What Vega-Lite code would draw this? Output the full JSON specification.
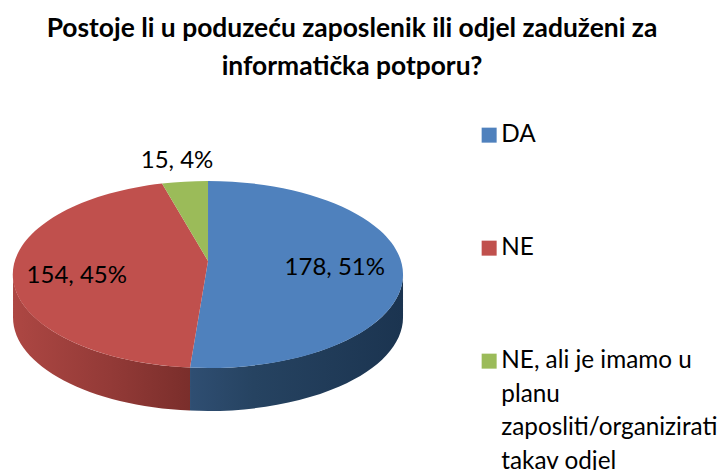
{
"$schema":"https://vega.github.io/schema/vega-lite/v6.json",
"width":725,"height":470,"padding":0,"autosize":{"type":"none"},
"background":"white",
"config":{"view":{"stroke":null},"font":"Lato"},
"title":{"text":["Postoje li u poduzeću zaposlenik ili odjel zaduženi za","informatička potporu?"],"font":"Lato","fontSize":26.4,"fontWeight":"bold","color":"#000000","anchor":"start","align":"center","dx":352,"orient":"top","baseline":"alphabetic","offset":-101,"lineHeight":37.5},
"data":{"values":[
{"answer":"DA","count":178,"label":"178, 51%","labelX":0.65,"labelY":0.073},
{"answer":"NE","count":154,"label":"154, 45%","labelX":-0.673,"labelY":-0.016},
{"answer":"NE, ali je imamo u planu zaposliti/organizirati takav odjel","count":15,"label":"15, 4%","labelX":-0.159,"labelY":1.217}
]},
"layer":[
{"transform":[{"filter":"datum.count==178"}],
 "mark":{"type":"point","filled":true,"opacity":1,"size":4,"shape":"M195,0 A195,93.5 0 0 1 -18,93.1 L-18,136.1 A195,93.5 0 0 0 195,43 Z",
 "fill":{"gradient":"linear","x1":0,"y1":0,"x2":1,"y2":0,"stops":[{"offset":0,"color":"#2f4e72"},{"offset":0.3,"color":"#264361"},{"offset":1,"color":"#1b3450"}]}},
 "encoding":{"x":{"datum":0,"type":"quantitative","scale":{"domain":[-1.0667,2.651],"nice":false,"zero":false},"axis":null},
 "y":{"datum":0,"type":"quantitative","scale":{"domain":[-2.091,2.936],"nice":false,"zero":false},"axis":null}}},
{"transform":[{"filter":"datum.count==154"}],
 "mark":{"type":"point","filled":true,"opacity":1,"size":4,"shape":"M-18,93.1 A195,93.5 0 0 1 -195,0 L-195,43 A195,93.5 0 0 0 -18,136.1 Z",
 "fill":{"gradient":"linear","x1":0,"y1":0,"x2":1,"y2":0,"stops":[{"offset":0,"color":"#ad4743"},{"offset":0.55,"color":"#933a37"},{"offset":1,"color":"#7a2e2b"}]}},
 "encoding":{"x":{"datum":0,"type":"quantitative"},"y":{"datum":0,"type":"quantitative"}}},
{"transform":[{"filter":"datum.count==178"}],
 "mark":{"type":"point","filled":true,"opacity":1,"size":4,"shape":"M0,-13.5 L0,-93.5 A195,93.5 0 1 1 -18,93.1 Z"},
 "encoding":{"x":{"datum":0,"type":"quantitative"},"y":{"datum":0,"type":"quantitative"},"color":{"field":"answer","type":"nominal"}}},
{"transform":[{"filter":"datum.count==154"}],
 "mark":{"type":"point","filled":true,"opacity":1,"size":4,"shape":"M0,-13.5 L-18,93.1 A195,93.5 0 0 1 -46,-90.9 Z"},
 "encoding":{"x":{"datum":0,"type":"quantitative"},"y":{"datum":0,"type":"quantitative"},"color":{"field":"answer","type":"nominal"}}},
{"transform":[{"filter":"datum.count==15"}],
 "mark":{"type":"point","filled":true,"opacity":1,"size":4,"shape":"M0,-13.5 L-46,-90.9 A195,93.5 0 0 1 0,-93.5 Z"},
 "encoding":{"x":{"datum":0,"type":"quantitative"},"y":{"datum":0,"type":"quantitative"},"color":{"field":"answer","type":"nominal",
  "scale":{"domain":["DA","NE","NE, ali je imamo u planu zaposliti/organizirati takav odjel"],"range":["#4f81bd","#c0504d","#9bbb59"]},
  "legend":{"title":null,"orient":"none","legendX":477,"legendY":123,"symbolType":"square","symbolSize":225,"symbolOpacity":1,"symbolStrokeWidth":0,"labelFont":"Lato","labelFontSize":24.3,"labelColor":"#000000","labelLimit":300,"labelOffset":0,"rowPadding":88,"labelExpr":"length(datum.label)>10 ? ['NE, ali je imamo u','planu','zaposliti/organizirati','takav odjel'] : datum.label","encoding":{"labels":{"lineHeight":{"value":33.5}}}}}}},
{"mark":{"type":"text","font":"Lato","fontSize":24,"color":"#000000","align":"center","baseline":"middle"},
 "encoding":{"x":{"field":"labelX","type":"quantitative"},"y":{"field":"labelY","type":"quantitative"},"text":{"field":"label"}}}
]
}
